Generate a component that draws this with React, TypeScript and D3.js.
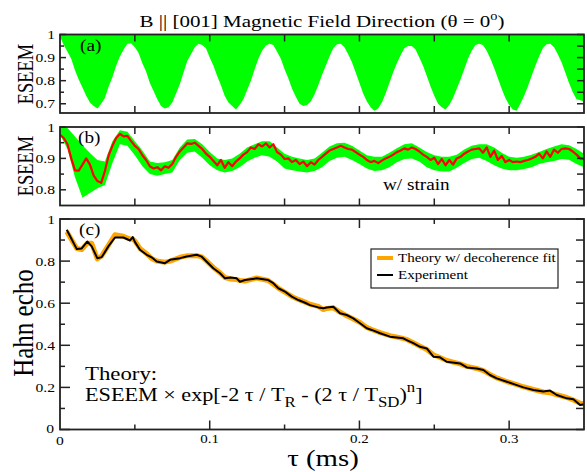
import * as d3 from 'd3'

const W = 587
const H = 472
const SERIF = '"Liberation Serif", "Times New Roman", Times, serif'
const SX = 1.2 // lettering in the source figure is stretched sideways

const TAU_MAX = 0.35
const STEP_A = 0.0025 // ms between samples, panel (a) and red line of (b)
const STEP_B = 0.005 // ms between samples, green band of (b)

// (a) lower edge of the ESEEM band (upper edge sits at 1)
const eseemALow = [
  0.99, 0.955, 0.925, 0.895, 0.845, 0.805, 0.77, 0.735, 0.705, 0.69,
  0.68, 0.7, 0.725, 0.775, 0.815, 0.865, 0.905, 0.935, 0.96, 0.962,
  0.945, 0.92, 0.875, 0.84, 0.79, 0.755, 0.72, 0.69, 0.68, 0.685,
  0.705, 0.745, 0.785, 0.835, 0.885, 0.915, 0.945, 0.96, 0.955, 0.94,
  0.9, 0.865, 0.82, 0.78, 0.735, 0.705, 0.69, 0.675, 0.695, 0.72,
  0.76, 0.8, 0.85, 0.895, 0.93, 0.952, 0.96, 0.955, 0.925, 0.895,
  0.85, 0.81, 0.765, 0.73, 0.7, 0.69, 0.695, 0.71, 0.74, 0.78,
  0.825, 0.865, 0.905, 0.94, 0.958, 0.96, 0.945, 0.915, 0.88, 0.835,
  0.79, 0.745, 0.71, 0.685, 0.67, 0.68, 0.705, 0.745, 0.79, 0.835,
  0.875, 0.91, 0.94, 0.95, 0.95, 0.935, 0.9, 0.865, 0.82, 0.775,
  0.735, 0.7, 0.685, 0.675, 0.695, 0.725, 0.765, 0.805, 0.85, 0.895,
  0.93, 0.955, 0.96, 0.955, 0.93, 0.895, 0.855, 0.81, 0.765, 0.725,
  0.695, 0.675, 0.67, 0.7, 0.735, 0.775, 0.82, 0.865, 0.905, 0.94,
  0.958, 0.96, 0.945, 0.915, 0.88, 0.835, 0.79, 0.75, 0.72, 0.715,
  0.71,
]

// (b) averaged ESEEM with strain (red)
const eseemBAvg = [
  0.975, 0.965, 0.945, 0.9, 0.862, 0.861, 0.88, 0.9, 0.88, 0.845,
  0.828, 0.822, 0.86, 0.91, 0.94, 0.965, 0.978, 0.97, 0.972, 0.955,
  0.94, 0.93, 0.91, 0.895, 0.875, 0.868, 0.872, 0.862, 0.875, 0.87,
  0.882, 0.905, 0.922, 0.935, 0.948, 0.946, 0.95, 0.94, 0.93, 0.915,
  0.905, 0.892, 0.878, 0.895, 0.87, 0.888, 0.875, 0.89, 0.9, 0.912,
  0.92, 0.935, 0.93, 0.945, 0.938, 0.948, 0.935, 0.945, 0.92, 0.912,
  0.898, 0.9, 0.888, 0.895, 0.882, 0.89, 0.875, 0.888, 0.88, 0.895,
  0.905, 0.915, 0.925, 0.93, 0.935, 0.94, 0.935, 0.93, 0.928, 0.92,
  0.912, 0.905, 0.895, 0.888, 0.892, 0.885, 0.893, 0.9, 0.905, 0.912,
  0.92, 0.925, 0.932, 0.928, 0.935, 0.93, 0.922, 0.912, 0.905, 0.895,
  0.902, 0.882, 0.898, 0.878, 0.895, 0.88, 0.9, 0.905, 0.915, 0.922,
  0.928, 0.93, 0.932, 0.918, 0.935, 0.905, 0.925, 0.895, 0.908, 0.888,
  0.895, 0.888, 0.89, 0.888, 0.892, 0.895, 0.9, 0.905, 0.915, 0.9,
  0.922, 0.905, 0.928, 0.918, 0.93, 0.932, 0.93, 0.922, 0.912, 0.9,
  0.898,
]

// (b) spread of the un-averaged ESEEM (green band)
const eseemBHigh = [
  1.0, 0.997, 0.97, 0.942, 0.917, 0.895, 0.89, 0.955, 0.99, 0.985,
  0.955, 0.925, 0.89, 0.885, 0.888, 0.895, 0.935, 0.96, 0.962, 0.945,
  0.92, 0.9, 0.895, 0.9, 0.915, 0.935, 0.945, 0.955, 0.955, 0.935,
  0.915, 0.905, 0.9, 0.895, 0.9, 0.918, 0.938, 0.948, 0.95, 0.94,
  0.925, 0.91, 0.905, 0.905, 0.918, 0.932, 0.945, 0.948, 0.935, 0.92,
  0.91, 0.905, 0.905, 0.912, 0.928, 0.94, 0.945, 0.945, 0.935, 0.918,
  0.905, 0.902, 0.905, 0.912, 0.92, 0.93, 0.938, 0.945, 0.942, 0.93,
  0.915,
]
const eseemBLow = [
  0.975, 0.93, 0.84, 0.775, 0.79, 0.805, 0.815, 0.885, 0.945, 0.94,
  0.91, 0.875, 0.85, 0.845, 0.85, 0.855, 0.895, 0.918, 0.922, 0.902,
  0.878, 0.862, 0.855, 0.86, 0.872, 0.89, 0.902, 0.91, 0.905, 0.89,
  0.868, 0.862, 0.858, 0.855, 0.86, 0.872, 0.892, 0.902, 0.905, 0.895,
  0.882, 0.868, 0.86, 0.862, 0.872, 0.888, 0.898, 0.9, 0.89, 0.872,
  0.862, 0.858, 0.858, 0.87, 0.885, 0.898, 0.902, 0.892, 0.878, 0.868,
  0.862, 0.862, 0.866, 0.872, 0.882, 0.888, 0.892, 0.898, 0.896, 0.882,
  0.872,
]

// (c) Hahn echo: sample times (ms), experiment and theory
const tauC = [
  0.0045, 0.0112, 0.0145, 0.0182, 0.0212, 0.0249, 0.0279, 0.0323, 0.0367, 0.0423,
  0.0468, 0.0486, 0.0501, 0.0534, 0.0579, 0.0612, 0.0646, 0.0701, 0.0735, 0.0802,
  0.0846, 0.0913, 0.0947, 0.098, 0.1024, 0.1069, 0.1102, 0.114, 0.118, 0.1202,
  0.1236, 0.1314, 0.1391, 0.1425, 0.1458, 0.1503, 0.1548, 0.1592, 0.1637, 0.167,
  0.1725, 0.1759, 0.1782, 0.1826, 0.187, 0.1915, 0.1959, 0.2004, 0.2049, 0.2082,
  0.2138, 0.2204, 0.2293, 0.2316, 0.236, 0.2405, 0.245, 0.2494, 0.2538, 0.2583,
  0.2672, 0.2717, 0.2783, 0.2828, 0.2872, 0.2917, 0.2984, 0.3051, 0.3095, 0.3162,
  0.3229, 0.3273, 0.3318, 0.3385, 0.3429, 0.3474, 0.35,
]
const hahnExp = [
  0.949, 0.857, 0.86, 0.893, 0.87, 0.814, 0.819, 0.87, 0.912, 0.912,
  0.898, 0.914, 0.89, 0.854, 0.83, 0.818, 0.798, 0.79, 0.806, 0.814,
  0.822, 0.83, 0.821, 0.797, 0.766, 0.742, 0.718, 0.722, 0.718, 0.702,
  0.71, 0.718, 0.71, 0.695, 0.671, 0.655, 0.631, 0.615, 0.602, 0.591,
  0.58, 0.576, 0.58, 0.583, 0.552, 0.544, 0.528, 0.505, 0.481, 0.473,
  0.457, 0.441, 0.433, 0.425, 0.41, 0.393, 0.385, 0.346, 0.343, 0.322,
  0.314, 0.295, 0.29, 0.283, 0.259, 0.243, 0.227, 0.211, 0.2, 0.188,
  0.18, 0.185, 0.164, 0.148, 0.144, 0.116, 0.12,
]
const hahnTheory = [
  0.94, 0.86, 0.855, 0.885, 0.885, 0.81, 0.825, 0.875, 0.925, 0.918,
  0.905, 0.905, 0.895, 0.86, 0.835, 0.812, 0.8, 0.795, 0.8, 0.818,
  0.825, 0.826, 0.82, 0.8, 0.77, 0.745, 0.722, 0.715, 0.712, 0.708,
  0.705, 0.72, 0.708, 0.69, 0.672, 0.652, 0.632, 0.618, 0.605, 0.595,
  0.585, 0.57, 0.575, 0.578, 0.558, 0.54, 0.525, 0.508, 0.485, 0.475,
  0.46, 0.446, 0.432, 0.428, 0.412, 0.396, 0.38, 0.355, 0.342, 0.328,
  0.312, 0.3, 0.29, 0.28, 0.262, 0.245, 0.228, 0.213, 0.203, 0.19,
  0.178, 0.175, 0.165, 0.152, 0.14, 0.125, 0.122,
]

const xTickLabels = [0.1, 0.2, 0.3]
const yTicksA = { major: [0.7, 0.8, 0.9, 1], minor: [0.75, 0.85, 0.95] }
const yTicksB = { major: [0.8, 0.9, 1], minor: [0.85, 0.95] }
const yTicksC = { major: [0, 0.2, 0.4, 0.6, 0.8, 1], minor: [0.1, 0.3, 0.5, 0.7, 0.9] }

const x = d3.scaleLinear().domain([0, TAU_MAX]).range([60, 584])
const yA = d3.scaleLinear().domain([0.66, 1]).range([113, 34.5])
const yB = d3.scaleLinear().domain([0.75, 1]).range([205.5, 127])
const yC = d3.scaleLinear().domain([0, 1]).range([429.5, 219])

const tauA = eseemALow.map((_, i) => i * STEP_A)
const tauBAvg = eseemBAvg.map((_, i) => i * STEP_A)
const tauBBand = eseemBHigh.map((_, i) => i * STEP_B)

function Txt({ x, y, size, anchor = 'start', rotate = false, children }: any) {
  return (
    <text
      transform={`translate(${x},${y}) scale(${SX},1)${rotate ? ' rotate(-90)' : ''}`}
      fontSize={size}
      fontFamily={SERIF}
      textAnchor={anchor}
      fill="#000"
    >
      {children}
    </text>
  )
}

function Frame({ y, ticks, xMajorLen, xMinorLen, xMinorOnly, yLen }: any) {
  const [y0, y1] = y.range() // bottom, top
  const x0 = x.range()[0]
  const x1 = x.range()[1]
  const xMajor = [0.1, 0.2, 0.3]
  const xMinor = [0.05, 0.15, 0.25]
  const segs: any[] = []
  const add = (xa: number, ya: number, xb: number, yb: number, k: string) =>
    segs.push(<line key={k} x1={xa} y1={ya} x2={xb} y2={yb} />)
  xMajor.forEach((t) => {
    add(x(t), y0, x(t), y0 - xMajorLen, 'xb' + t)
    add(x(t), y1, x(t), y1 + xMajorLen, 'xt' + t)
  })
  xMinor.forEach((t) => {
    const l = xMinorOnly ? xMinorLen : xMajorLen
    add(x(t), y0, x(t), y0 - l, 'mb' + t)
    add(x(t), y1, x(t), y1 + l, 'mt' + t)
  })
  ticks.major.forEach((v: number) => {
    add(x0, y(v), x0 + yLen[0], y(v), 'yl' + v)
    add(x1, y(v), x1 - yLen[2], y(v), 'yr' + v)
  })
  ticks.minor.forEach((v: number) => {
    add(x0, y(v), x0 + yLen[1], y(v), 'ml' + v)
    add(x1, y(v), x1 - yLen[2], y(v), 'mr' + v)
  })
  return (
    <g stroke="#222" strokeWidth={1.5} fill="none">
      {segs}
      <rect x={x0} y={y1} width={x1 - x0} height={y0 - y1} strokeWidth={1.8} />
    </g>
  )
}

function YLabels({ y, values }: any) {
  return (
    <g>
      {values.map((v: number) => (
        <Txt key={v} x={55} y={y(v) + 4.5} size={13} anchor="end">
          {String(+v.toFixed(2))}
        </Txt>
      ))}
    </g>
  )
}

export default function App() {
  const areaA = d3
    .area<number>()
    .x((_, i) => x(tauA[i]))
    .y0((d) => yA(d))
    .y1(yA(1))
  const areaB = d3
    .area<number>()
    .x((_, i) => x(tauBBand[i]))
    .y0((_, i) => yB(eseemBLow[i]))
    .y1((d) => yB(d))
  const lineB = d3
    .line<number>()
    .x((_, i) => x(tauBAvg[i]))
    .y((d) => yB(d))
  const lineC = (vals: number[]) =>
    d3
      .line<number>()
      .x((_, i) => x(tauC[i]))
      .y((d) => yC(d))(vals)

  const clip = (id: string, y: any) => (
    <clipPath id={id}>
      <rect x={x(0)} y={y.range()[1]} width={x(TAU_MAX) - x(0)} height={y.range()[0] - y.range()[1]} />
    </clipPath>
  )

  return (
    <svg
      width={W}
      height={H}
      viewBox={`0 0 ${W} ${H}`}
      style={{ position: 'absolute', left: 0, top: 0, background: '#fff' }}
    >
      <defs>
        {clip('clipA', yA)}
        {clip('clipB', yB)}
        {clip('clipC', yC)}
      </defs>

      {/* title */}
      <Txt x={322} y={27} size={17.5} anchor="middle">
        B || [001] Magnetic Field Direction (θ = 0
        <tspan fontSize={12} dy={-7}>o</tspan>
        <tspan dy={7}>)</tspan>
      </Txt>

      {/* (a) */}
      <g clipPath="url(#clipA)">
        <path d={areaA(eseemALow) ?? ''} fill="#00ff00" />
      </g>
      <Frame y={yA} ticks={yTicksA} xMajorLen={7} xMinorLen={7} yLen={[6, 4, 7]} />
      <YLabels y={yA} values={yTicksA.major} />
      <Txt x={80} y={51} size={16}>(a)</Txt>
      <Txt x={33} y={74} size={18.5} anchor="middle" rotate>ESEEM</Txt>

      {/* (b) */}
      <g clipPath="url(#clipB)">
        <path d={areaB(eseemBHigh) ?? ''} fill="#00ff00" />
        <path d={lineB(eseemBAvg) ?? ''} fill="none" stroke="#ff0000" strokeWidth={2.2} strokeLinejoin="round" />
      </g>
      <Frame y={yB} ticks={yTicksB} xMajorLen={7} xMinorLen={7} yLen={[6, 4, 7]} />
      <YLabels y={yB} values={yTicksB.major} />
      <Txt x={78} y={143} size={16}>(b)</Txt>
      <Txt x={33} y={166} size={18.5} anchor="middle" rotate>ESEEM</Txt>
      <Txt x={383} y={190} size={16}>w/ strain</Txt>

      {/* (c) */}
      <g clipPath="url(#clipC)">
        <path d={lineC(hahnTheory) ?? ''} fill="none" stroke="#ffa500" strokeWidth={5} strokeLinejoin="round" />
        <path d={lineC(hahnExp) ?? ''} fill="none" stroke="#000" strokeWidth={2} strokeLinejoin="round" />
      </g>
      <Frame y={yC} ticks={yTicksC} xMajorLen={9} xMinorLen={5} xMinorOnly yLen={[10, 5, 8]} />
      <YLabels y={yC} values={yTicksC.major.filter((v) => v > 0)} />
      <Txt x={54} y={433} size={13} anchor="end">0</Txt>
      <Txt x={60} y={445} size={13} anchor="middle">0</Txt>
      {xTickLabels.map((t) => (
        <Txt key={t} x={x(t)} y={443} size={12.5} anchor="middle">
          {String(t)}
        </Txt>
      ))}
      <Txt x={79} y={235} size={16}>(c)</Txt>
      <Txt x={33} y={323} size={25} anchor="middle" rotate>Hahn echo</Txt>
      <Txt x={323} y={466} size={24} anchor="middle">τ (ms)</Txt>

      {/* legend */}
      <rect x={371} y={249} width={187} height={39} fill="#fff" stroke="#222" strokeWidth={1.2} />
      <line x1={377} x2={393} y1={258} y2={258} stroke="#ffa500" strokeWidth={4} />
      <line x1={377} x2={393} y1={275} y2={275} stroke="#000" strokeWidth={2} />
      <Txt x={398} y={262} size={12.5}>Theory w/ decoherence fit</Txt>
      <Txt x={398} y={279} size={12.5}>Experiment</Txt>

      {/* formula */}
      <Txt x={85} y={380} size={19}>Theory:</Txt>
      <Txt x={85} y={401} size={18.5}>
        ESEEM × exp[-2 τ / T<tspan fontSize={14} dy={6}>R</tspan>
        <tspan dy={-6}> - (2 τ / T</tspan>
        <tspan fontSize={14} dy={6}>SD</tspan>
        <tspan dy={-6}>)</tspan>
        <tspan fontSize={14} dy={-9}>n</tspan>
        <tspan dy={9}>]</tspan>
      </Txt>
    </svg>
  )
}
